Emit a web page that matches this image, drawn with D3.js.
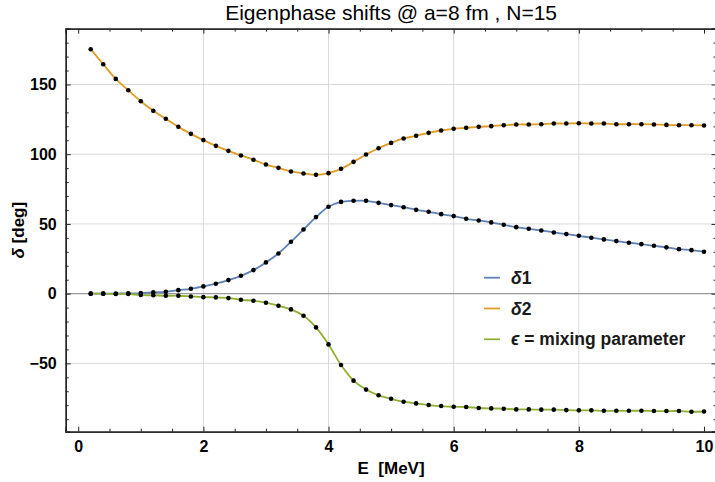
<!DOCTYPE html>
<html><head><meta charset="utf-8">
<script src="https://cdn.jsdelivr.net/npm/d3@7"></script>
<style>body{margin:0;background:#fff} svg{display:block}</style>
</head><body><svg id="c" width="715" height="482"></svg>
<script>
const energies = [0.2,0.4,0.6,0.8,1.0,1.2,1.4,1.6,1.8,2.0,2.2,2.4,2.6,2.8,3.0,3.2,3.4,3.6,3.8,4.0,
  4.2,4.4,4.6,4.8,5.0,5.2,5.4,5.6,5.8,6.0,6.2,6.4,6.6,6.8,7.0,7.2,7.4,7.6,7.8,8.0,
  8.2,8.4,8.6,8.8,9.0,9.2,9.4,9.6,9.8,10.0];
const delta1 = [0.0,0.0,0.1,0.2,0.4,0.9,1.3,2.5,3.5,5.2,7.1,9.7,12.8,16.9,22.4,28.8,37.2,46.0,54.9,62.3,
  65.8,66.6,66.6,65.1,63.5,62.0,60.1,58.7,57.0,55.6,53.7,52.5,51.1,49.4,47.7,46.5,45.3,43.9,42.7,41.5,
  40.1,38.9,37.7,36.5,35.5,34.3,33.2,31.9,31.2,30.0];
const delta2 = [175.3,164.5,154.0,145.9,138.0,131.1,125.4,119.6,114.6,110.1,106.0,102.4,99.1,96.0,92.6,90.2,87.6,86.2,85.2,86.4,
  89.5,94.5,99.8,104.3,108.1,111.3,113.2,115.3,117.0,118.2,118.9,119.6,120.1,120.8,121.3,121.3,121.5,122.0,122.0,122.2,
  122.0,122.0,121.5,121.5,121.5,121.3,121.0,120.8,120.8,120.6];
const epsilon = [0.0,0.0,-0.2,-0.2,-1.0,-1.2,-1.5,-1.5,-2.0,-2.5,-2.7,-3.2,-4.4,-5.1,-6.5,-8.7,-11.3,-15.9,-24.2,-36.4,
  -51.2,-62.4,-68.8,-72.9,-75.4,-77.5,-78.7,-79.9,-80.6,-81.1,-81.3,-82.0,-82.3,-82.5,-83.0,-83.0,-83.2,-83.2,-83.5,-83.7,
  -83.7,-84.0,-84.0,-84.0,-84.0,-84.2,-84.2,-84.2,-84.7,-84.5];
const xTicks = [0,2,4,6,8,10];
const xMinorTicks = [0.5,1,1.5,2.5,3,3.5,4.5,5,5.5,6.5,7,7.5,8.5,9,9.5];
const yTicks = [-50,0,50,100,150];
const yMinorTicks = [-90,-80,-70,-60,-40,-30,-20,-10,10,20,30,40,60,70,80,90,110,120,130,140,160,170,180];
const seriesLabels = [["δ","1"],["δ","2"],["ϵ"," = mixing parameter"]];
const seriesColors = ["#5e81b5","#e19c24","#8fb032"];
const titleText = "Eigenphase shifts @ a=8 fm , N=15";

const svg = d3.select("#c");
const L = 65.7, R = 716.5, T = 28.7, B = 431.7;
const x = d3.scaleLinear().domain([-0.2, 10.2]).range([L, R]);
const y = d3.scaleLinear().domain([-99, 190]).range([B, T]);

const g = svg.append("g");
// grid
g.selectAll(".gx").data([2,4,6,8]).join("line")
  .attr("x1", d=>x(d)).attr("x2", d=>x(d)).attr("y1", T).attr("y2", B)
  .attr("stroke", "#d9d9d9").attr("stroke-width", 1);
g.selectAll(".gy").data([-50,50,100,150]).join("line")
  .attr("x1", L).attr("x2", R).attr("y1", d=>y(d)).attr("y2", d=>y(d))
  .attr("stroke", "#d9d9d9").attr("stroke-width", 1);
// zero axis line
g.append("line").attr("x1", L).attr("x2", R).attr("y1", y(0)).attr("y2", y(0))
  .attr("stroke", "#9a9a9a").attr("stroke-width", 1.4);

const series = [delta1, delta2, epsilon];
const line = d3.line().x((d,i)=>x(energies[i])).y(d=>y(d)).curve(d3.curveCatmullRom.alpha(0.5));
series.forEach((s, k) => {
  g.append("path").attr("d", line(s)).attr("fill","none")
    .attr("stroke", seriesColors[k]).attr("stroke-width", 1.8);
});
series.forEach((s) => {
  g.append("g").selectAll("circle").data(s).join("circle")
    .attr("cx", (d,i)=>x(energies[i])).attr("cy", d=>y(d)).attr("r", 2.3).attr("fill", "#000");
});

// frame with axes
const fr = svg.append("g");
const tickFont = "'Liberation Sans Narrow','Liberation Sans',Arial,sans-serif";
const axB = d3.axisBottom(x).tickValues(xTicks).tickSize(-5).tickPadding(9).tickFormat(d3.format("d"));
const axT = d3.axisTop(x).tickValues(xTicks).tickSize(-5).tickFormat("");
const axL = d3.axisLeft(y).tickValues(yTicks).tickSize(-5).tickPadding(9).tickFormat(d=> d<0 ? "\u2212"+Math.abs(d) : d);
const axR = d3.axisRight(y).tickValues(yTicks).tickSize(-5).tickFormat("");
const mxB = d3.axisBottom(x).tickValues(xMinorTicks).tickSize(-3).tickFormat("");
const mxT = d3.axisTop(x).tickValues(xMinorTicks).tickSize(-3).tickFormat("");
const myL = d3.axisLeft(y).tickValues(yMinorTicks).tickSize(-3).tickFormat("");
const myR = d3.axisRight(y).tickValues(yMinorTicks).tickSize(-3).tickFormat("");
[[axB,`translate(0,${B})`],[mxB,`translate(0,${B})`],[axT,`translate(0,${T})`],[mxT,`translate(0,${T})`],
 [axL,`translate(${L},0)`],[myL,`translate(${L},0)`],[axR,`translate(${R},0)`],[myR,`translate(${R},0)`]].forEach(([a,t])=>{
  const ag = fr.append("g").attr("transform", t).call(a);
  ag.select(".domain").attr("stroke", "#222").attr("stroke-width", 1.3);
  ag.selectAll(".tick line").attr("stroke", "#222").attr("stroke-width", 1);
  ag.selectAll("text").attr("font-family", tickFont).attr("font-weight", "bold")
    .attr("font-size", 16).attr("fill", "#000");
});

// title
svg.append("text").attr("x", (L+R)/2).attr("y", 20).attr("text-anchor","middle")
  .attr("font-family", tickFont).attr("font-size", 21).attr("fill","#000").text(titleText);
// axis titles
svg.append("text").attr("x", (L+R)/2).attr("y", 474).attr("text-anchor","middle")
  .attr("font-family", tickFont).attr("font-weight","bold").attr("font-size", 17).attr("fill","#000")
  .attr("xml:space","preserve").text("E  [MeV]");
const yl = svg.append("text").attr("transform", `translate(24,${(T+B)/2}) rotate(-90)`).attr("text-anchor","middle")
  .attr("font-family", tickFont).attr("font-weight","bold").attr("font-size", 17).attr("fill","#000");
yl.append("tspan").attr("font-style","italic").text("δ");
yl.append("tspan").text(" [deg]");

// legend
const legY = [277.7, 308.5, 339.3];
const lg = svg.append("g");
seriesLabels.forEach((lab, k) => {
  lg.append("line").attr("x1", 484).attr("x2", 500).attr("y1", legY[k]).attr("y2", legY[k])
    .attr("stroke", seriesColors[k]).attr("stroke-width", 1.8);
  const t = lg.append("text").attr("x", 511).attr("y", legY[k]+6)
    .attr("font-family","'Liberation Sans',Arial,sans-serif").attr("font-weight","bold")
    .attr("font-size", 17.5).attr("fill","#1a1a1a").attr("xml:space","preserve");
  t.append("tspan").attr("font-style","italic").text(lab[0]);
  t.append("tspan").text(lab[1]);
});
</script></body></html>
